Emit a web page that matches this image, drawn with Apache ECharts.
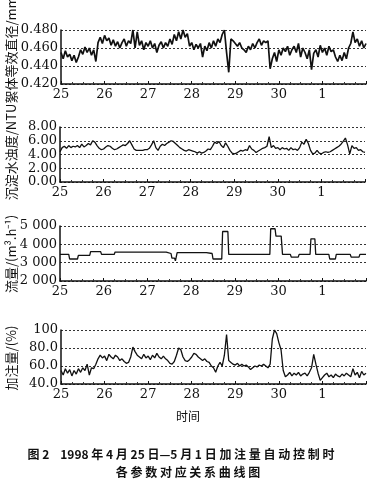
<!DOCTYPE html>
<html><head><meta charset="utf-8">
<script src="https://cdn.jsdelivr.net/npm/echarts/dist/echarts.min.js"></script>
<style>html,body{margin:0;padding:0;background:#fff}#c{width:380px;height:491px}</style>
</head><body><div id="c"></div>
<script>
// x positions are days after 25 April 0:00; tick labels are the dates
const dayLabels = ['25','26','27','28','29','30','1'];
const sampleStep = 0.05; // days between samples of the sampled series

const diamTicks = ['0.420','0.440','0.460','0.480'];
const turbTicks = ['0.00','2.00','4.00','6.00','8.00'];
const flowTicks = ['2 000','3 000','4 000','5 000'];
const doseTicks = ['40.0','60.0','80.0','100'];

// 絮体等效直径 / mm
const diameter = [
 0.455,0.448,0.457,0.450,0.453,0.446,0.452,0.444,
 0.450,0.458,0.453,0.461,0.455,0.460,0.452,0.458,
 0.445,0.466,0.472,0.465,0.474,0.468,0.471,0.463,
 0.469,0.462,0.467,0.460,0.466,0.470,0.462,0.468,
 0.465,0.480,0.460,0.478,0.463,0.468,0.458,0.466,
 0.462,0.468,0.460,0.465,0.455,0.463,0.467,0.460,
 0.466,0.462,0.470,0.464,0.475,0.468,0.478,0.470,
 0.480,0.472,0.476,0.462,0.466,0.458,0.464,0.460,
 0.465,0.450,0.462,0.457,0.466,0.460,0.468,0.462,
 0.470,0.466,0.475,0.480,0.455,0.433,0.470,0.468,
 0.465,0.462,0.466,0.460,0.458,0.455,0.462,0.458,
 0.465,0.460,0.466,0.470,0.463,0.468,0.466,0.468,
 0.437,0.448,0.455,0.445,0.458,0.452,0.460,0.456,
 0.462,0.452,0.458,0.462,0.455,0.465,0.450,0.460,
 0.455,0.448,0.458,0.436,0.454,0.458,0.450,0.463,
 0.455,0.460,0.452,0.462,0.456,0.458,0.450,0.445,
 0.452,0.446,0.455,0.448,0.460,0.465,0.478,0.466,
 0.470,0.462,0.468,0.460,0.465
];

// 沉淀水浊度 / NTU
const turbidity = [
 4.4,5.0,5.2,4.9,5.3,5.0,5.2,5.1,
 5.3,5.0,5.5,5.1,5.3,5.6,5.4,6.0,
 5.8,5.3,4.9,4.7,4.8,5.1,5.3,5.2,
 4.9,4.7,4.8,5.0,5.2,5.4,5.3,5.6,
 6.0,5.4,4.8,4.6,4.6,4.6,4.6,4.7,
 4.7,4.9,5.4,6.0,5.0,4.6,5.2,5.5,
 5.3,5.6,5.8,6.0,5.9,5.6,5.3,5.0,
 4.8,4.6,4.5,4.7,4.6,4.5,4.4,4.2,
 4.4,4.2,4.3,4.5,4.8,4.7,5.2,5.8,
 5.6,5.9,5.3,5.0,5.7,5.2,4.6,4.2,
 4.1,4.2,4.4,4.6,4.5,4.7,4.6,5.3,
 4.8,4.6,4.3,4.5,4.7,4.9,5.0,5.2,
 6.6,5.0,5.3,4.9,5.0,4.7,5.0,4.8,
 4.9,4.6,5.0,4.7,4.8,4.6,5.0,5.8,
 5.5,6.2,5.6,4.6,4.1,4.2,4.6,4.2,
 4.1,4.3,4.4,4.3,4.4,4.6,4.8,5.0,
 5.2,5.5,5.9,6.4,5.4,4.1,5.3,4.9,
 5.0,4.6,4.7,4.4,4.3
];

// 流量 / (m3/h), step changes
const flowTimes = [0,0.2,0.22,0.4,0.42,0.68,0.7,0.93,0.95,1.24,1.26,2.43,2.54,2.56,2.62,2.64,2.68,3.35,3.48,3.5,3.7,3.72,3.84,3.86,4.8,4.82,4.92,4.94,5.06,5.09,5.27,5.29,5.45,5.47,5.72,5.74,5.83,5.85,6.15,6.17,6.3,6.32,6.64,6.66,6.84,6.86,7.0];
const flowValues = [3450,3450,3200,3200,3400,3400,3600,3600,3450,3450,3580,3580,3500,3250,3250,3100,3550,3550,3500,3200,3200,4700,4700,3450,3450,4850,4850,4450,4450,3450,3450,3300,3300,3450,3450,4300,4300,3450,3450,3200,3200,3450,3450,3300,3300,3450,3450];

// 加注量 / %
const dosage = [
 55,50,57,52,56,49,55,51,
 57,53,58,55,62,50,58,57,
 62,68,72,69,71,66,73,70,
 68,72,70,66,68,65,63,64,
 70,81,76,72,70,68,73,69,
 71,67,72,69,74,70,68,71,
 68,66,63,62,65,72,80,78,
 70,66,65,67,70,74,73,70,
 68,66,68,65,64,60,58,53,
 60,64,60,72,95,66,64,62,
 61,63,60,62,60,61,59,56,
 58,60,59,61,60,62,60,58,
 62,90,100,96,86,78,55,48,
 50,53,49,52,50,53,49,51,
 52,49,53,58,73,62,52,44,
 47,50,52,48,50,47,51,49,
 48,51,49,52,50,48,57,50,
 53,47,54,50,52
];

function sampled(arr){ return arr.map((v,i)=>[+(i*sampleStep).toFixed(3), v]); }
function paired(ts, vs){ return ts.map((t,i)=>[t, vs[i]]); }

const tickFont = {fontFamily:'"DejaVu Serif", "Liberation Serif", serif', fontSize:13, color:'#111'};
const grids = [
  {left:61, right:14, top:30, height:54},
  {left:60, right:15, top:127, height:55},
  {left:60, right:14, top:226, height:55},
  {left:61, right:14, top:330, height:54}
];
const yDefs = [
  {min:0.42, max:0.48, interval:0.02, ticks:diamTicks},
  {min:0, max:8, interval:2, ticks:turbTicks},
  {min:2000, max:5000, interval:1000, ticks:flowTicks},
  {min:40, max:100, interval:20, ticks:doseTicks}
];
const seriesData = [sampled(diameter), sampled(turbidity), paired(flowTimes, flowValues), sampled(dosage)];
const widths = [1.7, 1.3, 1.3, 1.3];

function vText(x, y, text){
  return {type:'text', x:x, y:y, rotation:Math.PI/2,
    style:{text:text, font:'13px "Noto Sans CJK SC"', fill:'#111', textAlign:'center', textVerticalAlign:'top', align:'center', verticalAlign:'top'}};
}
function hText(x, y, text, font){
  return {type:'text', x:x, y:y,
    style:{text:text, font:font, fill:'#111', textAlign:'center', textVerticalAlign:'top', align:'center', verticalAlign:'top'}};
}

const chart = echarts.init(document.getElementById('c'), null, {renderer:'canvas'});
chart.setOption({
  animation:false,
  backgroundColor:'#fff',
  grid: grids,
  xAxis: grids.map((g,i)=>({
    type:'value', gridIndex:i, min:0, max:7, interval:1,
    axisLine:{show:true, onZero:false, lineStyle:{color:'#111', width:1.5}},
    axisTick:{show:true, inside:true, length:3, lineStyle:{color:'#111'}},
    minorTick:{show:true, splitNumber:4, length:2, lineStyle:{color:'#333'}},
    splitLine:{show:false},
    axisLabel:Object.assign({margin:4, showMaxLabel:false, formatter:(v)=>dayLabels[Math.round(v)] || ''}, tickFont)
  })),
  yAxis: yDefs.map((d,i)=>({
    type:'value', gridIndex:i, min:d.min, max:d.max, interval:d.interval,
    axisLine:{show:true, lineStyle:{color:'#111', width:1.5}},
    axisTick:{show:false},
    splitLine:{show:true, lineStyle:{color:'#333', width:1, type:[2,2]}},
    axisLabel:Object.assign({margin:3, formatter:(v,idx)=>d.ticks[idx]}, tickFont)
  })),
  series: seriesData.map((data,i)=>({
    type:'line', xAxisIndex:i, yAxisIndex:i, data:data,
    showSymbol:false, symbol:'none',
    lineStyle:{color:'#111', width:widths[i]}
  })),
  graphic: [
    vText(5, 50, '絮体等效直径/mm'),
    vText(5, 152, '沉淀水浊度/NTU'),
    vText(5, 254, '流量/(m³.h⁻¹)'),
    vText(5, 358, '加注量/(%)'),
    hText(188, 410, '时间', '12px "Noto Sans CJK SC"'),
    hText(181, 448, '图 2    1998 年 4 月 25 日—5 月 1 日 加 注 量 自 动 控 制 时', 'bold 12px "Noto Sans CJK SC"'),
    hText(188, 466, '各 参 数 对 应 关 系 曲 线 图', 'bold 12px "Noto Sans CJK SC"')
  ]
});
</script></body></html>
